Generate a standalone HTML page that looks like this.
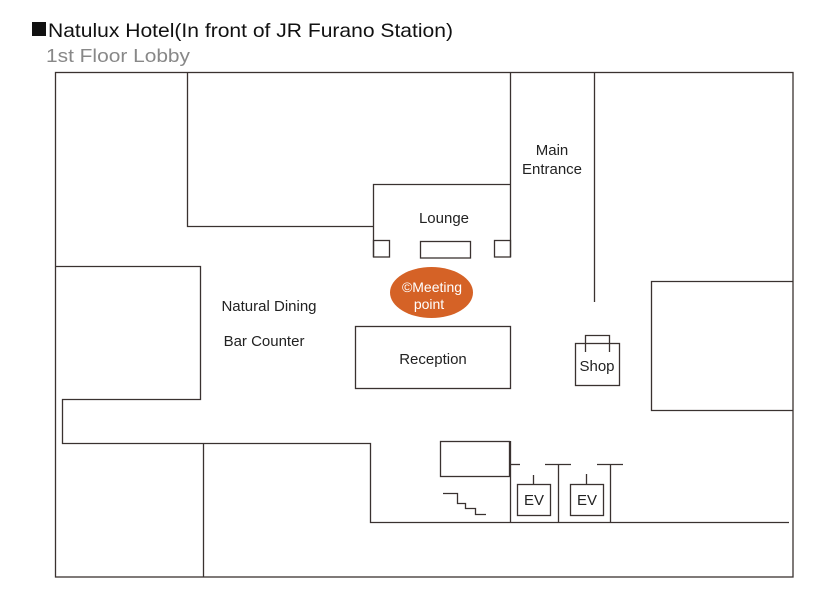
<!DOCTYPE html>
<html><head><meta charset="utf-8"><style>
html,body{margin:0;padding:0;background:#fff;width:840px;height:594px;overflow:hidden}
svg{display:block}
text{font-family:"Liberation Sans",Arial,sans-serif}
</style></head><body>
<svg width="840" height="594" viewBox="0 0 840 594" xmlns="http://www.w3.org/2000/svg">
<rect x="32" y="22" width="14" height="14" fill="#111"/>
<text x="48" y="37" font-size="19.5" fill="#111" textLength="405" lengthAdjust="spacingAndGlyphs">Natulux Hotel(In front of JR Furano Station)</text>
<text x="46" y="62" font-size="18.5" fill="#888" textLength="144" lengthAdjust="spacingAndGlyphs">1st Floor Lobby</text>
<g stroke="#3a3230" stroke-width="1.3" fill="none">
<rect x="55.5" y="72.5" width="737.5" height="504.5"/>
<polyline points="187.5,72 187.5,226.5 373.5,226.5"/>
<polyline points="373.5,257 373.5,184.5 510.5,184.5"/>
<line x1="510.5" y1="72" x2="510.5" y2="257"/>
<rect x="373.5" y="240.5" width="16" height="16.5"/>
<rect x="420.5" y="241.5" width="50" height="16.5"/>
<rect x="494.5" y="240.5" width="16" height="16.5"/>
<line x1="594.5" y1="72" x2="594.5" y2="302"/>
<polyline points="793,281.5 651.5,281.5 651.5,410.5 793,410.5"/>
<polyline points="55,266.5 200.5,266.5 200.5,399.5 62.5,399.5 62.5,443.5 370.5,443.5 370.5,522.5 789,522.5"/>
<line x1="203.5" y1="443.5" x2="203.5" y2="577"/>
<rect x="355.5" y="326.5" width="155" height="62"/>
<rect x="575.5" y="343.5" width="44" height="42"/>
<polyline points="585.5,352 585.5,335.5 609.5,335.5 609.5,352"/>
<rect x="440.5" y="441.5" width="69" height="35"/>
<line x1="510.5" y1="441" x2="510.5" y2="522"/>
<line x1="510.5" y1="464.5" x2="520" y2="464.5"/>
<rect x="517.5" y="484.5" width="33" height="31"/>
<rect x="570.5" y="484.5" width="33" height="31"/>
<line x1="533.5" y1="475" x2="533.5" y2="484"/>
<line x1="586.5" y1="474" x2="586.5" y2="484"/>
<line x1="545" y1="464.5" x2="571" y2="464.5"/>
<line x1="558.5" y1="464.5" x2="558.5" y2="522"/>
<line x1="597" y1="464.5" x2="623" y2="464.5"/>
<line x1="610.5" y1="464.5" x2="610.5" y2="522"/>
<polyline points="443,493.5 457.5,493.5 457.5,503.5 465.5,503.5 465.5,508.5 475.5,508.5 475.5,514.5 486,514.5"/>
</g>
<ellipse cx="431.5" cy="292.5" rx="41.5" ry="25.5" fill="#d56226"/>
<g font-size="15" fill="#222">
<text x="552" y="155" text-anchor="middle">Main</text>
<text x="552" y="174" text-anchor="middle">Entrance</text>
<text x="444" y="223" text-anchor="middle">Lounge</text>
<text x="269" y="311" text-anchor="middle">Natural Dining</text>
<text x="264" y="346" text-anchor="middle">Bar Counter</text>
<text x="433" y="364" text-anchor="middle">Reception</text>
<text x="597" y="371" text-anchor="middle">Shop</text>
<text x="534" y="505" text-anchor="middle">EV</text>
<text x="587" y="505" text-anchor="middle">EV</text>
</g>
<g font-size="14" fill="#fff">
<text x="432" y="292" text-anchor="middle">©Meeting</text>
<text x="429" y="309" text-anchor="middle">point</text>
</g>
</svg>
</body></html>
